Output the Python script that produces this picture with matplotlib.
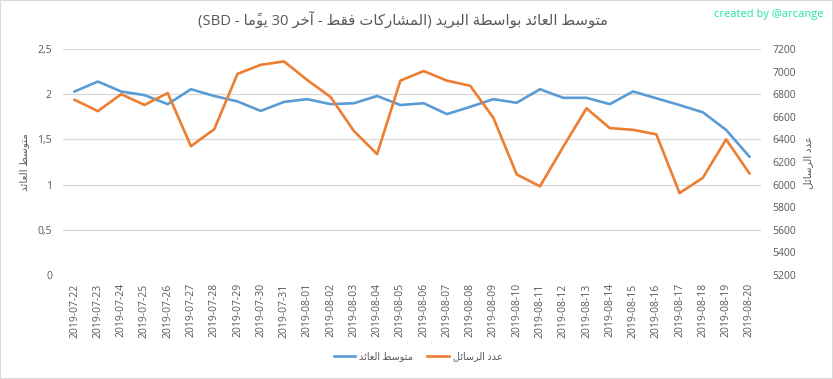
import matplotlib
matplotlib.use('Agg')
import matplotlib.pyplot as plt
from matplotlib.patches import Rectangle
import numpy as np

# ----- data -----
dates = ['2019-07-22', '2019-07-23', '2019-07-24', '2019-07-25', '2019-07-26',
         '2019-07-27', '2019-07-28', '2019-07-29', '2019-07-30', '2019-07-31',
         '2019-08-01', '2019-08-02', '2019-08-03', '2019-08-04', '2019-08-05',
         '2019-08-06', '2019-08-07', '2019-08-08', '2019-08-09', '2019-08-10',
         '2019-08-11', '2019-08-12', '2019-08-13', '2019-08-14', '2019-08-15',
         '2019-08-16', '2019-08-17', '2019-08-18', '2019-08-19', '2019-08-20']

avg_payout = [2.03, 2.14, 2.03, 1.99, 1.89, 2.055, 1.98, 1.92, 1.815, 1.915,
              1.945, 1.89, 1.90, 1.98, 1.88, 1.90, 1.78, 1.86, 1.945, 1.905,
              2.055, 1.96, 1.96, 1.89, 2.03, 1.955, 1.88, 1.80, 1.605, 1.31]

posts = [6750, 6650, 6800, 6705, 6810, 6340, 6490, 6980, 7060, 7090,
         6925, 6775, 6475, 6270, 6920, 7005, 6920, 6875, 6590, 6090,
         5985, 6335, 6675, 6500, 6485, 6445, 5925, 6060, 6400, 6100]

left_ticks = [0, 0.5, 1, 1.5, 2, 2.5]
left_labels = ['0', '0,5', '1', '1,5', '2', '2,5']
right_ticks = [5200, 5400, 5600, 5800, 6000, 6200, 6400, 6600, 6800, 7000, 7200]

TITLE = 'متوسط العائد بواسطة البريد (المشاركات فقط - آخر 30 يومًا - SBD)'
LABEL_AVG = 'متوسط العائد'
LABEL_POSTS = 'عدد الرسائل'
CREDIT = 'created by @arcange'

# ----- minimal arabic shaping: isolated, final, initial, medial -----
AR_FORMS = {
    '\u0622': '\uFE81\uFE82', '\u0626': '\uFE89\uFE8A\uFE8B\uFE8C',
    '\u0627': '\uFE8D\uFE8E', '\u0628': '\uFE8F\uFE90\uFE91\uFE92',
    '\u0629': '\uFE93\uFE94', '\u062A': '\uFE95\uFE96\uFE97\uFE98',
    '\u062E': '\uFEA5\uFEA6\uFEA7\uFEA8', '\u062F': '\uFEA9\uFEAA',
    '\u0631': '\uFEAD\uFEAE', '\u0633': '\uFEB1\uFEB2\uFEB3\uFEB4',
    '\u0634': '\uFEB5\uFEB6\uFEB7\uFEB8', '\u0637': '\uFEC1\uFEC2\uFEC3\uFEC4',
    '\u0639': '\uFEC9\uFECA\uFECB\uFECC', '\u0641': '\uFED1\uFED2\uFED3\uFED4',
    '\u0642': '\uFED5\uFED6\uFED7\uFED8', '\u0643': '\uFED9\uFEDA\uFEDB\uFEDC',
    '\u0644': '\uFEDD\uFEDE\uFEDF\uFEE0', '\u0645': '\uFEE1\uFEE2\uFEE3\uFEE4',
    '\u0646': '\uFEE5\uFEE6\uFEE7\uFEE8', '\u0648': '\uFEED\uFEEE',
    '\u064A': '\uFEF1\uFEF2\uFEF3\uFEF4',
}
MARKS = '\u064B'
MIRROR = {'(': ')', ')': '('}


def shape(text):
    out = []
    for i, c in enumerate(text):
        if c not in AR_FORMS:
            out.append(c)
            continue
        j = i - 1
        while j >= 0 and text[j] in MARKS:
            j -= 1
        k = i + 1
        while k < len(text) and text[k] in MARKS:
            k += 1
        forms = AR_FORMS[c]
        prev_joins = j >= 0 and len(AR_FORMS.get(text[j], '')) == 4
        next_joins = len(forms) == 4 and k < len(text) and text[k] in AR_FORMS
        if prev_joins and next_joins:
            out.append(forms[3])
        elif prev_joins:
            out.append(forms[1])
        elif next_joins:
            out.append(forms[2])
        else:
            out.append(forms[0])
    return ''.join(out)


def rtl(text):
    # shape, then lay out right-to-left keeping latin/digit runs in order
    s = shape(text)
    runs = []
    for c in s:
        ltr = c.isascii() and c.isalnum()
        if runs and runs[-1][0] == ltr:
            runs[-1][1].append(c)
        else:
            runs.append([ltr, [c]])
    out = []
    for ltr, chunk in reversed(runs):
        if ltr:
            out.append(''.join(chunk))
        else:
            clusters = []
            for c in chunk:
                if c in MARKS and clusters:
                    clusters[-1] += c
                else:
                    clusters.append(MIRROR.get(c, c))
            out.append(''.join(reversed(clusters)))
    return ''.join(out)


plt.rcParams['font.family'] = ['Open Sans', 'DejaVu Sans']
GREY = '#595959'
BLUE = '#5b9bd5'
ORANGE = '#ed7d31'

fig = plt.figure(figsize=(8.33, 3.79), dpi=100)
ax = fig.add_axes([63 / 833, 1 - 275 / 379, 698 / 833, 226 / 379])
ax2 = ax.twinx()

x = np.arange(len(dates))
l1, = ax.plot(x, avg_payout, color=BLUE, lw=1.9, solid_joinstyle='round')
l2, = ax2.plot(x, posts, color=ORANGE, lw=1.9, solid_joinstyle='round')

ax.set_xlim(-0.5, len(dates) - 0.5)
ax.set_ylim(0, 2.5)
ax2.set_ylim(5200, 7200)

ax.set_yticks(left_ticks)
ax.set_yticklabels(left_labels)
ax2.set_yticks(right_ticks)
ax.set_xticks(x)
ax.set_xticklabels(dates, rotation=90)

ax.grid(axis='y', color='#d9d9d9', lw=0.9)
ax.set_axisbelow(True)
for a in (ax, ax2):
    for sp in a.spines.values():
        sp.set_visible(False)
    a.tick_params(length=0, colors=GREY, labelsize=7.5)
ax.tick_params(axis='y', pad=8)
ax2.tick_params(axis='y', pad=8)
ax.tick_params(axis='x', pad=6)

ax.set_ylabel(rtl(LABEL_AVG), color=GREY, fontsize=7.5, rotation=90)
ax.yaxis.set_label_coords(-33 / 698, 0.5)
ax2.set_ylabel(rtl(LABEL_POSTS), color=GREY, fontsize=7.5, rotation=90)
ax2.yaxis.set_label_coords(1 + 42 / 698, 0.5)

fig.text(403 / 833, 1 - 20 / 379, rtl(TITLE), ha='center', va='center',
         fontsize=10.7, color=GREY)
fig.text(823 / 833, 1 - 14 / 379, CREDIT, ha='right', va='center',
         fontsize=8, color='#1ee3a3')

fig.legend([l1, l2], [rtl(LABEL_AVG), rtl(LABEL_POSTS)], ncol=2,
           loc='center', bbox_to_anchor=(418 / 833, 1 - 357 / 379),
           frameon=False, fontsize=7, labelcolor=GREY, handlelength=2.2,
           handletextpad=0.4, columnspacing=1.5)

fig.patches.append(Rectangle((0, 0), 1, 1, transform=fig.transFigure,
                             fill=False, edgecolor='#d9d9d9', lw=1.5))

fig.savefig('out.png', dpi=100)
